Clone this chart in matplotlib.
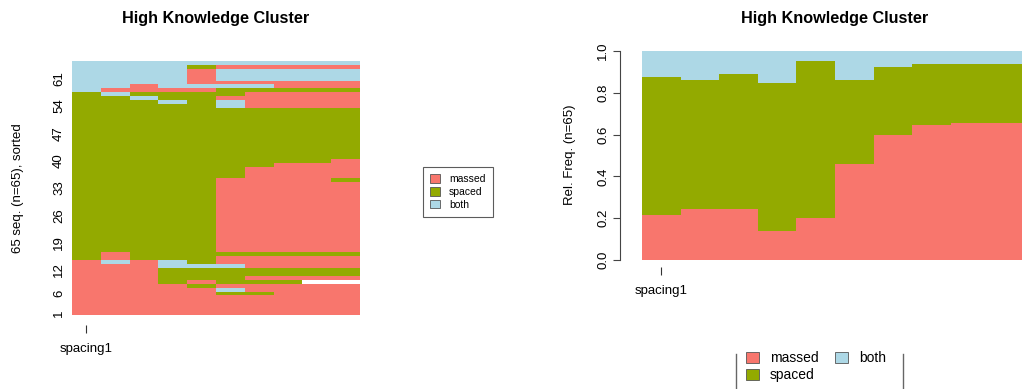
import numpy as np
import matplotlib
matplotlib.use("Agg")
import matplotlib.pyplot as plt
from matplotlib.colors import ListedColormap
from matplotlib.patches import Patch
from matplotlib.lines import Line2D

plt.rcParams["font.family"] = ["Liberation Sans", "DejaVu Sans"]

# states and colours
states = ["massed", "spaced", "both"]
codes = ["M", "S", "B"]
state_colors = ["#F8766D", "#93AA00", "#ADD8E6"]
positions = ["spacing1"]  # only the first position is labelled

# 65 sequences, 10 positions each, already sorted (row 1 = bottom). "-" = missing
seq_rows = (
    ["MMMMMMMMMM"] * 5
    + ["MMMMMSSMMM", "MMMMMBMMMM", "MMMMSMMMMM", "MMMSMSSS--", "MMMSSSMMMM",
       "MMMSSSSSSS", "MMMSSSSSSS", "MMMBBBMMMM", "MBMBSMMMMM", "SMSSSMMMMM",
       "SMSSSSSSSS"]
    + ["SSSSSMMMMM"] * 18
    + ["SSSSSMMMMS"]
    + ["SSSSSSMMMM"] * 3
    + ["SSSSSSSMMM", "SSSSSSSSSM"]
    + ["SSSSSSSSSS"] * 13
    + ["SSSSSBMMMM", "SSSBSBMMMM", "SSBSSMMMMM", "SBSSSSMMMM", "BMMMMSSSSS",
       "BBMBBBBMMM", "BBBBMMMMMM"]
    + ["BBBBMBBBBB"] * 3
    + ["BBBBSMMMMM", "BBBBBBBBBB"]
)
ytick_labels = [1, 6, 12, 19, 26, 33, 40, 47, 54, 61]

W, H = 1022, 389
fig = plt.figure(figsize=(W / 100, H / 100), dpi=100)


def box(x0, y0, x1, y1):
    return [x0 / W, 1 - y1 / H, (x1 - x0) / W, (y1 - y0) / H]


n_seq = len(seq_rows)
n_pos = len(seq_rows[0])
mat = np.full((n_seq, n_pos), np.nan)
for i, s in enumerate(seq_rows):
    for j, c in enumerate(s):
        if c in codes:
            mat[i, j] = codes.index(c)

# ---- left: sequence index plot
ax1 = fig.add_axes(box(72, 61, 360, 315))
cmap = ListedColormap(state_colors)
cmap.set_bad("white")
ax1.pcolormesh(np.arange(n_pos + 1), np.arange(n_seq + 1),
               np.ma.masked_invalid(mat), cmap=cmap, vmin=-0.5, vmax=2.5)
ax1.set_xlim(0, n_pos)
ax1.set_ylim(0, n_seq)
for sp in ax1.spines.values():
    sp.set_visible(False)
ax1.spines["bottom"].set_position(("outward", 7.5))
ax1.set_yticks(np.array(ytick_labels) - 0.5)
ax1.set_yticklabels(ytick_labels, rotation=90, va="center", fontsize=9.5)
ax1.tick_params(axis="y", length=0, pad=5)
ax1.set_xticks([0.5])
ax1.set_xticklabels(positions, fontsize=9.5)
ax1.tick_params(axis="x", length=6, width=0.8, pad=7, color="#333333")
fig.text(18 / W, 1 - 188 / H, "65 seq. (n=65), sorted", rotation=90,
         ha="center", va="center", fontsize=9.5)
fig.text(216 / W, 1 - 18 / H, "High Knowledge Cluster", ha="center",
         va="center", fontsize=11.7, fontweight="bold")

# ---- right: state distribution plot
ax2 = fig.add_axes(box(642, 51, 1028, 260))
x = np.arange(n_pos)
bottom = np.zeros(n_pos)
valid = (~np.isnan(mat)).sum(axis=0)
for k in range(len(states)):
    freq = (mat == k).sum(axis=0) / valid
    ax2.bar(x, freq, width=1.0, bottom=bottom, align="edge",
            color=state_colors[k], linewidth=0)
    bottom += freq
ax2.set_xlim(0, n_pos)
ax2.set_ylim(0, 1)
for sp in ["top", "right", "bottom"]:
    ax2.spines[sp].set_visible(False)
ax2.spines["left"].set_position(("outward", 16))
ax2.spines["left"].set_bounds(0, 1)
ax2.spines["left"].set_color("#444444")
ax2.spines["bottom"].set_position(("outward", 5))
ax2.set_yticks([0, 0.2, 0.4, 0.6, 0.8, 1.0])
ax2.set_yticklabels(["0.0", "0.2", "0.4", "0.6", "0.8", "1.0"], rotation=90,
                    va="center", fontsize=9.5)
ax2.tick_params(axis="y", length=5, width=0.8, pad=2.5, color="#444444")
ax2.set_xticks([0.5])
ax2.set_xticklabels(positions, fontsize=9.5)
ax2.tick_params(axis="x", length=6, width=0.8, pad=7, color="#333333")
fig.text(570 / W, 1 - 155 / H, "Rel. Freq. (n=65)", rotation=90,
         ha="center", va="center", fontsize=9.5)
fig.text(835 / W, 1 - 18 / H, "High Knowledge Cluster", ha="center",
         va="center", fontsize=11.7, fontweight="bold")

# ---- legends
handles = [Patch(facecolor=c, edgecolor="#555555", linewidth=0.6)
           for c in state_colors]
leg1 = fig.legend(handles, states, loc="upper left",
                  bbox_to_anchor=(423 / W, 1 - 167 / H), fontsize=7.5,
                  frameon=True, fancybox=False, edgecolor="#333333",
                  handlelength=0.9, handleheight=0.9, handletextpad=0.9,
                  labelspacing=0.25, borderpad=0.7, borderaxespad=0)
leg1.get_frame().set_linewidth(0.8)

fig.legend(handles, states,
           loc="upper left", bbox_to_anchor=(745 / W, 1 - 350 / H), ncol=2,
           fontsize=10, frameon=False, handlelength=0.9, handleheight=0.9,
           handletextpad=0.8, labelspacing=0.2, columnspacing=1.2,
           borderaxespad=0, borderpad=0.1)
for xp in (736, 903):
    fig.add_artist(Line2D([xp / W, xp / W], [1 - 354 / H, 0],
                          color="#666666", linewidth=1))

fig.savefig("out.png", dpi=100)
